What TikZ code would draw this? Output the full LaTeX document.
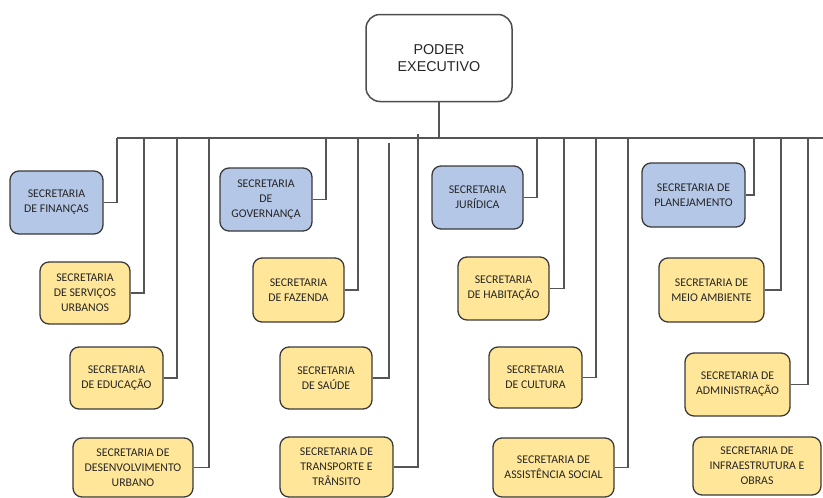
\documentclass[tikz,border=0pt]{standalone}
\usepackage{fontspec}
\setmainfont{Liberation Sans}
\newfontfamily\carlito{Carlito}
\definecolor{bluefill}{HTML}{B4C7E7}
\definecolor{yellowfill}{HTML}{FFE699}
\definecolor{boxborder}{HTML}{3A3A3A}
\definecolor{linec}{HTML}{555555}
\definecolor{textc}{HTML}{262626}
\tikzset{
  secbox/.style={draw=boxborder, line width=1.3pt, rounded corners=9pt, align=center,
    font=\carlito\fontsize{11.8}{15}\selectfont, text=textc, inner sep=0pt},
  bluebox/.style={secbox, fill=bluefill},
  yellowbox/.style={secbox, fill=yellowfill},
  wh/.style 2 args={minimum width=#1pt, minimum height=#2pt},
  conn/.style={draw=linec, line width=1.5pt},
}
\begin{document}
\begin{tikzpicture}[x=1pt,y=-1pt]
\useasboundingbox[fill=white] (0,0) rectangle (823,498);
% top
\node[draw=boxborder!90, line width=1.5pt, rounded corners=14pt, fill=white, align=center,
  font=\fontsize{14.3}{17}\selectfont, text=textc, wh={146}{87}, inner sep=0pt]
  (poder) at (439,58) {PODER\\EXECUTIVO};
% bus coordinates
\coordinate (busL) at (117,138);
\coordinate (busR) at (823,138);
\coordinate (busP) at (439,138);
\foreach \n/\x in {b1/117,b2/144,b3/177,b4/209,c1/326,c2/358,c4/418,d1/537,d2/564,d3/596,d4/628,e1/754,e2/781,e3/808}
  \coordinate (\n) at (\x,138);
\coordinate (c3) at (389,143);
\coordinate (c4top) at (418,134);
% boxes column 1
\node[bluebox, wh={93}{63}] (fin) at (56.5,202.5) {SECRETARIA\\DE FINANÇAS};
\node[yellowbox, wh={90}{62}] (serv) at (85,293) {SECRETARIA\\DE SERVIÇOS\\URBANOS};
\node[yellowbox, wh={93}{62}] (edu) at (116.5,378) {SECRETARIA\\DE EDUCAÇÃO};
\node[yellowbox, wh={120}{59}] (desenv) at (133,467.5) {SECRETARIA DE\\DESENVOLVIMENTO\\URBANO};
% column 2
\node[bluebox, wh={92}{63}] (gov) at (266,199.5) {SECRETARIA\\DE\\GOVERNANÇA};
\node[yellowbox, wh={91}{64}] (faz) at (298.5,290) {SECRETARIA\\DE FAZENDA};
\node[yellowbox, wh={92}{62}] (sau) at (326,378) {SECRETARIA\\DE SAÚDE};
\node[yellowbox, wh={113}{60}] (trans) at (336.5,467) {SECRETARIA DE\\TRANSPORTE E\\TRÂNSITO};
% column 3
\node[bluebox, wh={91}{63}] (jur) at (477.5,197.5) {SECRETARIA\\JURÍDICA};
\node[yellowbox, wh={91}{63}] (hab) at (503.5,288.5) {SECRETARIA\\DE HABITAÇÃO};
\node[yellowbox, wh={93}{61}] (cult) at (535.5,377.5) {SECRETARIA\\DE CULTURA};
\node[yellowbox, wh={121}{59}] (assist) at (553.5,467.5) {SECRETARIA DE\\ASSISTÊNCIA SOCIAL};
% column 4
\node[bluebox, wh={103}{64}] (plan) at (693.5,195) {SECRETARIA DE\\PLANEJAMENTO};
\node[yellowbox, wh={105}{64}] (meio) at (711.5,290) {SECRETARIA DE\\MEIO AMBIENTE};
\node[yellowbox, wh={105}{63}] (adm) at (737.5,384.5) {SECRETARIA DE\\ADMINISTRAÇÃO};
\node[yellowbox, wh={128}{58}] (infra) at (757,466) {SECRETARIA DE\\INFRAESTRUTURA E\\OBRAS};
% connectors
\draw[conn] (busL) -- (busR);
\draw[conn] (poder.south) -- (busP);
\draw[conn] (fin.east) -| (b1);
\draw[conn] (serv.east) -| (b2);
\draw[conn] (edu.east) -| (b3);
\draw[conn] (desenv.east) -| (b4);
\draw[conn] (gov.east) -| (c1);
\draw[conn] (faz.east) -| (c2);
\draw[conn] (sau.east) -| (c3);
\draw[conn] (trans.east) -| (c4top);
\draw[conn] (jur.east) -| (d1);
\draw[conn] (hab.east) -| (d2);
\draw[conn] (cult.east) -| (d3);
\draw[conn] (assist.east) -| (d4);
\draw[conn] (plan.east) -| (e1);
\draw[conn] (meio.east) -| (e2);
\draw[conn] (adm.east) -| (e3);
\end{tikzpicture}
\end{document}
